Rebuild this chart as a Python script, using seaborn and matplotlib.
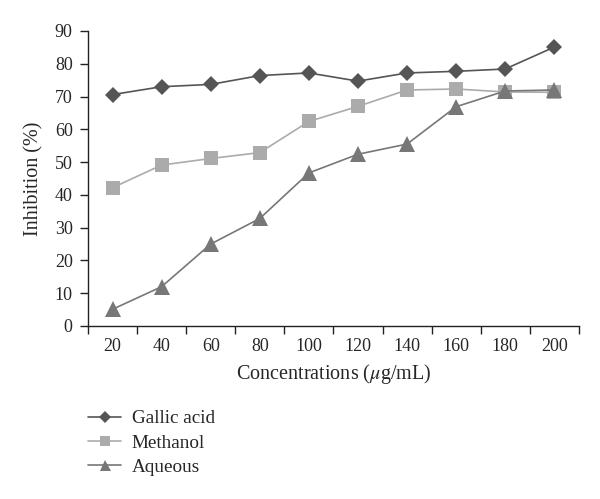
import numpy as np
import pandas as pd
import seaborn as sns
import matplotlib.pyplot as plt
from matplotlib.ticker import FixedLocator

concentrations = [20, 40, 60, 80, 100, 120, 140, 160, 180, 200]
gallic_acid = [70.6, 73.0, 73.7, 76.4, 77.2, 74.7, 77.2, 77.7, 78.4, 85.1]
methanol = [42.2, 49.1, 51.1, 52.9, 62.4, 67.0, 72.0, 72.3, 71.4, 71.3]
aqueous = [5.1, 12.0, 25.0, 32.8, 46.7, 52.4, 55.5, 66.9, 71.7, 72.0]

series = ["Gallic acid", "Methanol", "Aqueous"]
colors = {"Gallic acid": "#555555", "Methanol": "#ababab", "Aqueous": "#777777"}
markers = {"Gallic acid": "D", "Methanol": "s", "Aqueous": "^"}
sizes = {"Gallic acid": 8, "Methanol": 10, "Aqueous": 11}

df = pd.DataFrame({
    "conc": concentrations * 3,
    "value": gallic_acid + methanol + aqueous,
    "extract": sum([[s] * len(concentrations) for s in series], []),
})

sns.set_style("ticks")
plt.rcParams["font.family"] = ["Liberation Serif", "DejaVu Serif"]
plt.rcParams["mathtext.fontset"] = "stix"

fig = plt.figure(figsize=(6, 4.99), dpi=100)
ax = fig.add_axes([0.1467, 0.3467, 0.818, 0.5912])

for s in series:
    sub = df[df.extract == s]
    sns.lineplot(data=sub, x="conc", y="value", ax=ax, color=colors[s],
                 marker=markers[s], markersize=sizes[s], markeredgewidth=0,
                 linewidth=1.2, label=s, legend=False)

ax.set_xlim(10, 210)
ax.set_ylim(0, 90)
ax.set_yticks(np.arange(0, 91, 10))
ax.set_xticks(concentrations)
ax.xaxis.set_minor_locator(FixedLocator(np.arange(10, 211, 20)))
ax.tick_params(axis="x", which="major", length=0, labelsize=13, pad=9)
ax.tick_params(axis="x", which="minor", length=6, width=1, color="#222222")
ax.tick_params(axis="y", length=6, width=1, labelsize=13, pad=5, color="#222222")
for sp in ["top", "right"]:
    ax.spines[sp].set_visible(False)
for sp in ["left", "bottom"]:
    ax.spines[sp].set_linewidth(1)
    ax.spines[sp].set_color("#222222")

ax.set_xlabel("Concentrations ($\\mu$g/mL)", fontsize=14.5, labelpad=5)
ax.set_ylabel("Inhibition (%)", fontsize=14.5, labelpad=8)

h, l = ax.get_legend_handles_labels()
fig.legend(h, l, loc="upper left", bbox_to_anchor=(0.134, 0.194), frameon=False,
           fontsize=13.8, handlelength=1.72, handletextpad=0.57, labelspacing=0.36,
           borderaxespad=0, markerscale=0.72)

fig.savefig("out.png", dpi=100)
